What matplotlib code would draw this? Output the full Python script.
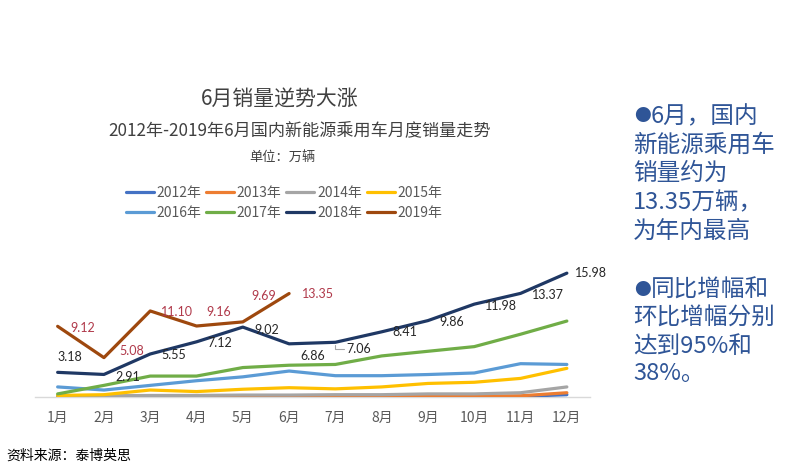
import matplotlib
matplotlib.use("Agg")
import matplotlib.pyplot as plt

plt.rcParams['font.family'] = ['Noto Sans CJK SC', 'DejaVu Sans']

months = ["1月", "2月", "3月", "4月", "5月", "6月", "7月", "8月", "9月", "10月", "11月", "12月"]
years = ["2012年", "2013年", "2014年", "2015年", "2016年", "2017年", "2018年", "2019年"]

s2012 = [0.05, 0.05, 0.05, 0.05, 0.05, 0.05, 0.05, 0.05, 0.05, 0.05, 0.08, 0.3]
s2013 = [0.1, 0.1, 0.1, 0.1, 0.1, 0.1, 0.1, 0.1, 0.1, 0.1, 0.15, 0.55]
s2014 = [0.15, 0.15, 0.2, 0.2, 0.25, 0.25, 0.3, 0.3, 0.4, 0.4, 0.55, 1.3]
s2015 = [0.2, 0.3, 0.9, 0.7, 1.0, 1.2, 1.05, 1.3, 1.75, 1.9, 2.4, 3.7]
s2016 = [1.3, 0.9, 1.5, 2.1, 2.6, 3.35, 2.75, 2.75, 2.9, 3.1, 4.3, 4.2]
s2017 = [0.4, 1.5, 2.7, 2.7, 3.8, 4.1, 4.2, 5.3, 5.9, 6.5, 8.1, 9.8]
s2018 = [3.18, 2.91, 5.55, 7.12, 9.02, 6.86, 7.06, 8.41, 9.86, 11.98, 13.37, 15.98]
s2019 = [9.12, 5.08, 11.10, 9.16, 9.69, 13.35]

series = [s2012, s2013, s2014, s2015, s2016, s2017, s2018, s2019]
colors = ["#4472C4", "#ED7D31", "#A5A5A5", "#FFC000", "#5B9BD5", "#70AD47", "#1F3864", "#9E480E"]

W, H = 800, 467
fig = plt.figure(figsize=(8, 4.67), dpi=100)
fig.patch.set_facecolor("white")

left, right, base, top_px = 34.5, 590.0, 397.0, 265.25
ax = fig.add_axes([left / W, (H - base) / H, (right - left) / W, (base - top_px) / H])
ax.set_xlim(0.5, 12.5)
ax.set_ylim(0, 17)
ax.patch.set_alpha(0)

handles = []
for ys, c, lab in zip(series, colors, years):
    x = list(range(1, len(ys) + 1))
    ln, = ax.plot(x, ys, color=c, lw=2.3, solid_capstyle='round', label=lab, zorder=3)
    handles.append(ln)

for sp in ["top", "right", "left"]:
    ax.spines[sp].set_visible(False)
ax.spines["bottom"].set_color("#D9D9D9")
ax.spines["bottom"].set_linewidth(1.0)
ax.set_yticks([])
ax.set_xticks(range(1, 13))
ax.set_xticklabels(months, fontsize=10, color="#595959")
ax.tick_params(axis='x', length=0, pad=10)

lab_font = ['Lato', 'DejaVu Sans']
off18 = [(0, 11), (8, -2), (8, -1), (8, -1), (8, -2), (8, -9), (8, -5), (8, 0), (8, -1), (8, -1), (8, -1), (6, 0)]
for i, (v, o) in enumerate(zip(s2018, off18)):
    kw = {}
    if i == 6:
        kw = dict(arrowprops=dict(arrowstyle='-', color="#A6A6A6", lw=0.8,
                                  connectionstyle="angle,angleA=0,angleB=90,rad=0", shrinkA=0, shrinkB=2))
    ax.annotate(f"{v:.2f}", (i + 1, v), xytext=o, textcoords='offset points',
                ha='left', va='center', fontsize=9, color="#262626", family=lab_font, zorder=5, **kw)

off19 = [(9, -1), (11, 5), (8, -1), (7, 10), (6, 19), (9, 0)]
for i, (v, o) in enumerate(zip(s2019, off19)):
    ax.annotate(f"{v:.2f}", (i + 1, v), xytext=o, textcoords='offset points',
                ha='left', va='center', fontsize=9, color="#B0394A", family=lab_font, zorder=5)

order = [0, 4, 1, 5, 2, 6, 3, 7]
leg = fig.legend([handles[i] for i in order], [years[i] for i in order], ncol=4,
                 loc='upper left', bbox_to_anchor=(126 / W, 1 - 186 / H), frameon=False,
                 fontsize=10, handlelength=2.0, handletextpad=0.2, columnspacing=0.35,
                 labelspacing=0.45, borderpad=0, borderaxespad=0)
for t in leg.get_texts():
    t.set_color("#595959")

fig.text(280 / W, 1 - 100 / H, "6月销量逆势大涨", ha='center', va='center', fontsize=15, color="#404040")
fig.text(300 / W, 1 - 130 / H, "2012年-2019年6月国内新能源乘用车月度销量走势", ha='center', va='center',
         fontsize=12.3, color="#404040")
fig.text(282 / W, 1 - 157 / H, "单位：万辆", ha='center', va='center', fontsize=9.5, color="#404040")

blue = "#2F5597"
block1 = ["6月，国内", "新能源乘用车", "销量约为", "13.35万辆，", "为年内最高"]
block2 = ["同比增幅和", "环比增幅分别", "达到95%和", "38%。"]
for k, s in enumerate(block1):
    y = 1 - (116.7 + 28.6 * k) / H
    if k == 0:
        fig.text(634 / W, y, "●", ha='left', va='center', fontsize=12, color=blue)
        fig.text(651 / W, y, s, ha='left', va='center', fontsize=17, color=blue)
    else:
        fig.text(633 / W, y, s, ha='left', va='center', fontsize=17, color=blue)
for k, s in enumerate(block2):
    y = 1 - (290 + 28.0 * k) / H
    if k == 0:
        fig.text(634 / W, y, "●", ha='left', va='center', fontsize=12, color=blue)
        fig.text(651 / W, y, s, ha='left', va='center', fontsize=17, color=blue)
    else:
        fig.text(633 / W, y, s, ha='left', va='center', fontsize=17, color=blue)

fig.text(6 / W, 1 - 456 / H, "资料来源：泰博英思", ha='left', va='center', fontsize=10, color="#000000")

fig.savefig("out.png", dpi=100)
